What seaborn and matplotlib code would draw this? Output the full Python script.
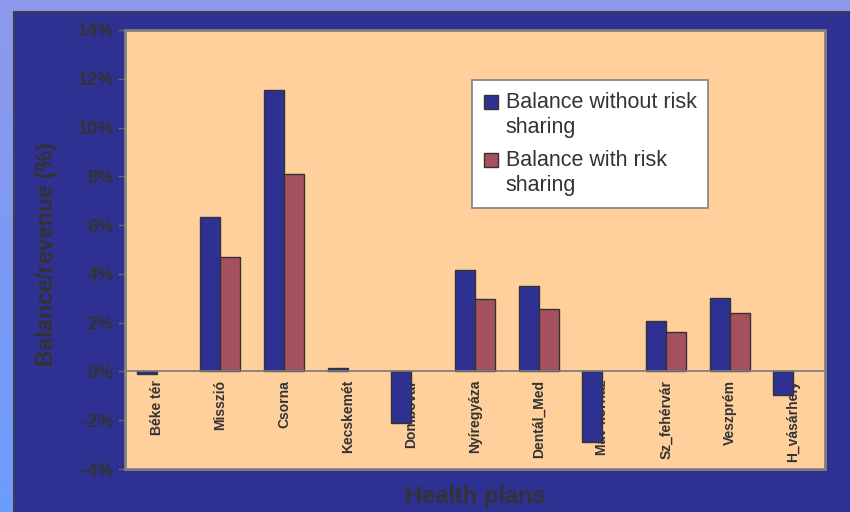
import numpy as np
import pandas as pd
import matplotlib
matplotlib.use("Agg")
import matplotlib.pyplot as plt
from matplotlib.patches import Rectangle
from matplotlib.legend_handler import HandlerPatch
import seaborn as sns

plans = ["Béke tér", "Misszió", "Csorna", "Kecskemét", "Dombóvár", "Nyíregyáza",
         "Dentál_Med", "Máv kórház", "Sz_fehérvár", "Veszprém", "H_vásárhely"]
series = ["Balance without risk\nsharing", "Balance with risk\nsharing"]
without_rs = [-0.1, 6.35, 11.55, 0.15, -2.1, 4.15, 3.5, -2.9, 2.05, 3.0, -0.95]
with_rs = [np.nan, 4.7, 8.1, np.nan, np.nan, 2.95, 2.55, np.nan, 1.6, 2.4, np.nan]
yticks = [-4, -2, 0, 2, 4, 6, 8, 10, 12, 14]

df = pd.DataFrame({
    "plan": plans * 2,
    "series": [series[0]] * len(plans) + [series[1]] * len(plans),
    "value": without_rs + with_rs,
})

sns.set_theme(style="white")
plt.rcParams["font.family"] = ["Liberation Sans", "DejaVu Sans"]

NAVY = "#2E3192"
RED = "#A4505F"
PEACH = "#FFD09C"
TXT = "#333333"

fig = plt.figure(figsize=(8.5, 5.12), dpi=100)

# background gradient + navy panel
bg = fig.add_axes([0, 0, 1, 1], zorder=-10)
top = np.array([142, 152, 234]) / 255
bot = np.array([108, 156, 255]) / 255
t = np.linspace(0, 1, 256)[:, None]
grad = (top[None, :] * (1 - t) + bot[None, :] * t)[:, None, :]
bg.imshow(grad, extent=[0, 850, 512, 0], aspect="auto")
bg.add_patch(Rectangle((14, 12), 850, 520, facecolor=NAVY, edgecolor="#3d3d4d", lw=1.5))
bg.set_xlim(0, 850)
bg.set_ylim(512, 0)
bg.axis("off")

ax = fig.add_axes([125 / 850, 1 - 469 / 512, 700 / 850, 439 / 512])
sns.barplot(data=df, x="plan", y="value", hue="series", order=plans, hue_order=series,
            palette=[NAVY, RED], width=0.63, edgecolor="#333333", linewidth=1.0,
            saturation=1, ax=ax, errorbar=None)
ax.set_facecolor(PEACH)
ax.set_xlim(-0.5, len(plans) - 0.5)
ax.set_ylim(-4, 14)
ax.set_yticks(yticks)
ax.set_yticklabels([f"{v}%" for v in yticks])
ax.set_xlabel("")
ax.set_ylabel("")

for s in ["top", "right", "left"]:
    ax.spines[s].set_visible(False)
ax.spines["bottom"].set_position(("data", 0))
ax.spines["bottom"].set_color("#7a7a7a")
ax.spines["bottom"].set_linewidth(1.2)
ax.add_patch(Rectangle((0, 0), 1, 1, transform=ax.transAxes, fill=False,
                       ec="#808080", lw=2, clip_on=False, zorder=5))

ax.set_xticks(range(len(plans)))
ax.set_xticklabels(plans, rotation=90, va="top", ha="center",
                   fontsize=10, fontweight="bold", color=TXT)
ax.set_xticks(np.arange(0.5, len(plans) - 0.5, 1), minor=True)
ax.tick_params(axis="x", which="major", length=0, pad=6)
ax.tick_params(axis="x", which="minor", length=5, direction="out", color="#666666", width=1)
ax.tick_params(axis="y", length=5, direction="out", color="#666666", width=1, pad=3,
               labelsize=13, labelcolor=TXT, left=True)
for lab in ax.get_yticklabels():
    lab.set_fontweight("bold")


def top_patch(legend, orig_handle, xdescent, ydescent, width, height, fontsize):
    shift = 0.62 * fontsize
    return Rectangle((-xdescent, -ydescent + shift), width, height)


h, l = ax.get_legend_handles_labels()
handler = HandlerPatch(patch_func=top_patch)
leg = ax.legend(h, l, loc="upper left", bbox_to_anchor=(0.496, 0.886), frameon=True,
                fancybox=False, edgecolor="#808080", facecolor="white", framealpha=1,
                fontsize=15.5, handlelength=0.65, handleheight=0.65, handletextpad=0.35,
                labelspacing=0.55, borderpad=0.55, borderaxespad=0,
                handler_map={hh: handler for hh in h})
leg.get_frame().set_linewidth(1.2)
for txt in leg.get_texts():
    txt.set_color(TXT)
    txt.set_linespacing(1.25)

fig.text(475 / 850, 1 - 497 / 512, "Health plans", ha="center", va="center",
         fontsize=17, fontweight="bold", color=TXT)
fig.text(47 / 850, 1 - 254 / 512, "Balance/revenue (%)", ha="center", va="center",
         rotation=90, fontsize=16.5, fontweight="bold", color=TXT)

fig.savefig("out.png", dpi=100)
